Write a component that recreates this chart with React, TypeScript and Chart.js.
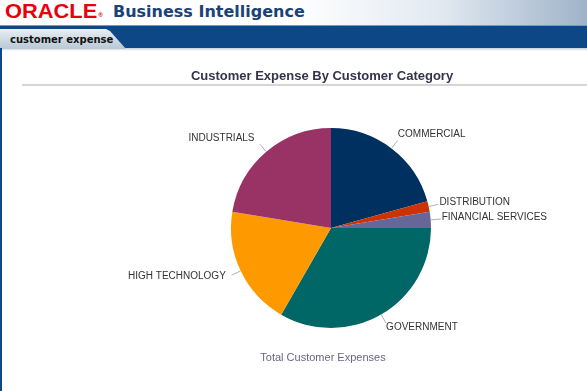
import React, { useEffect, useRef } from "react";
import { Chart, registerables } from "chart.js";

Chart.register(...registerables);

const categories = [
  "COMMERCIAL",
  "DISTRIBUTION",
  "FINANCIAL SERVICES",
  "GOVERNMENT",
  "HIGH TECHNOLOGY",
  "INDUSTRIALS",
];
const expenseShare = [20.7, 1.7, 2.6, 33.3, 19.3, 22.4];
const sliceColors = ["#003060", "#cc3300", "#666699", "#006666", "#ff9900", "#993366"];
const chartTitle = "Customer Expense By Customer Category";
const chartSubtitle = "Total Customer Expenses";

const labelPlugin = {
  id: "obiLabels",
  afterDatasetsDraw(chart: any) {
    const ctx = chart.ctx;
    const meta = chart.getDatasetMeta(0);
    ctx.save();
    // title
    ctx.fillStyle = "#33334a";
    ctx.font = "bold 13px 'Liberation Sans', Arial, sans-serif";
    ctx.textAlign = "center";
    ctx.textBaseline = "alphabetic";
    ctx.fillText(chartTitle, 322, 80);
    // separator
    ctx.fillStyle = "#d6d6d6";
    ctx.fillRect(22, 84, 565, 2);
    // subtitle
    ctx.fillStyle = "#66668a";
    ctx.font = "11px 'Liberation Sans', Arial, sans-serif";
    ctx.fillText(chartSubtitle, 323, 361);

    ctx.font = "10px 'Liberation Sans', Arial, sans-serif";
    ctx.textBaseline = "middle";
    meta.data.forEach((arc: any, i: number) => {
      const p = arc.getProps(["x", "y", "startAngle", "endAngle", "outerRadius"], true);
      const mid = (p.startAngle + p.endAngle) / 2;
      const c = Math.cos(mid);
      const s = Math.sin(mid);
      const r = p.outerRadius;
      ctx.strokeStyle = "#aab0c0";
      ctx.lineWidth = 1;
      ctx.beginPath();
      ctx.moveTo(p.x + c * r, p.y + s * r);
      ctx.lineTo(p.x + c * (r + 10), p.y + s * (r + 10));
      ctx.stroke();
      const tx = p.x + c * (r + 12);
      const ty = p.y + s * (r + 12) + s * 4 - 1;
      ctx.fillStyle = "#333333";
      if (c >= 0) {
        ctx.textAlign = "left";
        ctx.fillText(categories[i], tx - 1, ty);
      } else {
        ctx.textAlign = "right";
        ctx.fillText(categories[i], tx - 4, ty);
      }
    });
    ctx.restore();
  },
};

export default function App() {
  const ref = useRef<HTMLCanvasElement>(null);
  useEffect(() => {
    if (!ref.current) return;
    const chart = new Chart(ref.current, {
      type: "pie",
      data: {
        labels: categories,
        datasets: [
          {
            data: expenseShare,
            backgroundColor: sliceColors,
            borderWidth: 0,
            hoverOffset: 0,
            offset: 0,
          },
        ],
      },
      options: {
        responsive: false,
        animation: false,
        devicePixelRatio: 1,
        layout: { padding: { left: 231, right: 156, top: 128, bottom: 63 } },
        plugins: {
          legend: { display: false },
          tooltip: { enabled: false },
          title: { display: false },
        },
      },
      plugins: [labelPlugin],
    });
    return () => chart.destroy();
  }, []);

  return (
    <div
      style={{
        position: "fixed",
        left: 0,
        top: 0,
        width: 587,
        height: 391,
        overflow: "hidden",
        background: "#ffffff",
        fontFamily: "'Liberation Sans', Arial, sans-serif",
      }}
    >
      <div
        style={{
          position: "absolute",
          left: 0,
          top: 0,
          width: 587,
          height: 25,
          background: "linear-gradient(to right, #ffffff 0%, #ffffff 50%, #e2e9f1 75%, #9fb3c9 100%)",
        }}
      />
      <div
        style={{
          position: "absolute",
          left: 5,
          top: -1,
          fontWeight: "bold",
          fontSize: 21,
          color: "#e8000b",
          transform: "scaleX(1.04)",
          transformOrigin: "left top",
          lineHeight: "24px",
          whiteSpace: "nowrap",
        }}
      >
        ORACLE
        <span style={{ fontSize: 6, verticalAlign: "top", marginLeft: 1, position: "relative", top: 4 }}>®</span>
      </div>
      <div
        style={{
          position: "absolute",
          left: 113,
          top: 1,
          fontWeight: "bold",
          fontSize: 16,
          lineHeight: "22px",
          color: "#1b4278",
          fontFamily: "'DejaVu Sans', Verdana, sans-serif",
        }}
      >
        Business Intelligence
      </div>
      <div style={{ position: "absolute", left: 0, top: 25, width: 587, height: 1, background: "#6c9bd2" }} />
      <div style={{ position: "absolute", left: 0, top: 26, width: 587, height: 22, background: "#0e4785" }} />
      <div
        style={{
          position: "absolute",
          left: 0,
          top: 48,
          width: 587,
          height: 3,
          background: "linear-gradient(to bottom, #c3cfdb, #ffffff)",
        }}
      />
      <div
        style={{
          position: "absolute",
          left: 0,
          top: 29,
          width: 126,
          height: 20,
          background: "linear-gradient(to bottom, #e8eef4, #b7c8d5)",
          clipPath: "polygon(0 0, 106px 0, 110px 2px, 126px 20px, 0 20px)",
        }}
      />
      <div
        style={{
          position: "absolute",
          left: 10,
          top: 33,
          fontWeight: "bold",
          fontSize: 10,
          lineHeight: "14px",
          color: "#111111",
          fontFamily: "'DejaVu Sans', Verdana, sans-serif",
          whiteSpace: "nowrap",
        }}
      >
        customer expense
      </div>
      <div style={{ position: "absolute", left: 0, top: 48, width: 2, height: 343, background: "#0e4785" }} />
      <canvas
        ref={ref}
        width={587}
        height={391}
        style={{ position: "absolute", left: 0, top: 0, width: 587, height: 391 }}
      />
    </div>
  );
}
